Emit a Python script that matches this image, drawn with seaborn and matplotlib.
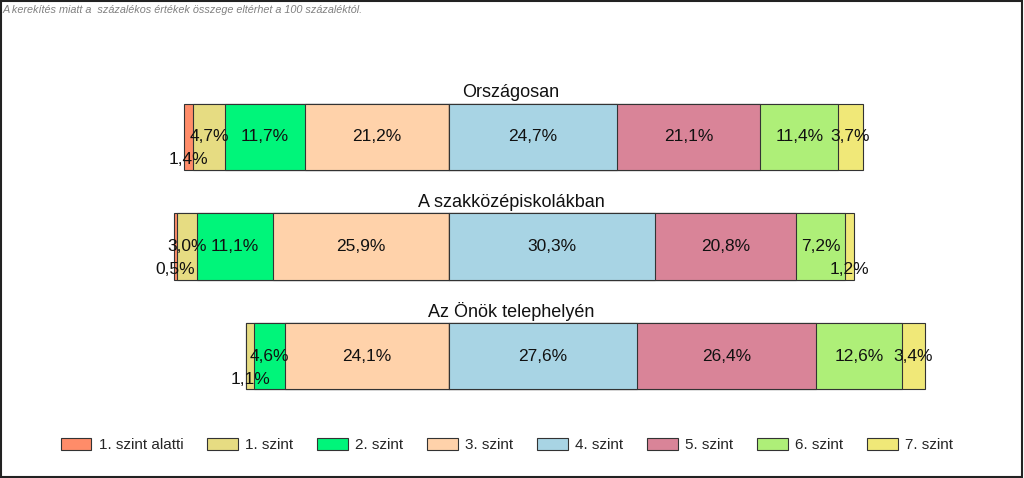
import matplotlib

matplotlib.use("Agg")
import matplotlib.pyplot as plt
import matplotlib.transforms as mtransforms
import numpy as np
import seaborn as sns
from matplotlib.patches import Patch, Rectangle

# adatok
levels = ["1. szint alatti", "1. szint", "2. szint", "3. szint",
          "4. szint", "5. szint", "6. szint", "7. szint"]
groups = ["Országosan", "A szakközépiskolákban", "Az Önök telephelyén"]
orszagos = [1.4, 4.7, 11.7, 21.2, 24.7, 21.1, 11.4, 3.7]
szakkozep = [0.5, 3.0, 11.1, 25.9, 30.3, 20.8, 7.2, 1.2]
telephely = [0.0, 1.1, 4.6, 24.1, 27.6, 26.4, 12.6, 3.4]
note = "A kerekítés miatt a  százalékos értékek összege eltérhet a 100 százaléktól."

colors = ["#FF8C69", "#E6DC82", "#00F57A", "#FFD2AA",
          "#A8D4E4", "#D98498", "#AEEF78", "#F0E878"]

sns.set_style("white")
plt.rcParams["font.family"] = ["Liberation Sans", "DejaVu Sans"]

values = np.array([orszagos, szakkozep, telephely])
# a 3. és 4. szint határa a nulla pont
left_cum = values[:, :4][:, ::-1].cumsum(axis=1)[:, ::-1]
right_cum = values[:, 4:].cumsum(axis=1)

fig = plt.figure(figsize=(10.24, 4.78), dpi=100)
ax = fig.add_axes([0, 0, 1, 1])

bar_kw = dict(y=groups, order=groups, orient="h", width=0.603, saturation=1,
              errorbar=None, edgecolor="#333333", linewidth=0.8, ax=ax)

# bal oldal: a legnagyobb kumulált érték kerül alulra
for i in range(4):
    sns.barplot(x=-left_cum[:, i], color=colors[i], **bar_kw)
# jobb oldal
for j in range(3, -1, -1):
    sns.barplot(x=right_cum[:, j], color=colors[4 + j], **bar_kw)

title_tr = mtransforms.blended_transform_factory(ax.transAxes, ax.transData)

# címkék
for r in range(len(groups)):
    starts = np.array([-left_cum[r, 0], -left_cum[r, 1], -left_cum[r, 2], -left_cum[r, 3],
                       0, right_cum[r, 0], right_cum[r, 1], right_cum[r, 2]])
    for k, v in enumerate(values[r]):
        if v <= 0:
            continue
        xc = starts[k] + v / 2
        yc = r + (0.21 if v < 2 else 0)
        ax.text(xc, yc, f"{v:.1f}%".replace(".", ","), ha="center", va="center",
                fontsize=12.5, color="#111111")
    ax.text(0.499, r - 0.302 - 0.10, groups[r], transform=title_tr,
            ha="center", va="center", fontsize=13, color="#111111")

ax.set_xlim(-449 / 6.8, (1024 - 449) / 6.8)
ax.set_ylim(3.114, -1.251)
ax.set_axis_off()

handles = [Patch(facecolor=c, edgecolor="#333333", linewidth=0.8) for c in colors]
fig.legend(handles, levels, loc="center", bbox_to_anchor=(507 / 1024, 1 - 445 / 478),
           ncol=8, frameon=False, fontsize=11, handlelength=2.0, handleheight=0.85,
           handletextpad=0.5, columnspacing=1.55)

fig.text(3 / 1024, 1 - 10 / 478, note, ha="left", va="center", fontsize=7.8,
         style="italic", color="#808080")
fig.patches.append(Rectangle((0.001, 0.003), 0.997, 0.995, transform=fig.transFigure,
                             fill=False, edgecolor="#222222", linewidth=1.5))

fig.savefig("out.png", dpi=100)
